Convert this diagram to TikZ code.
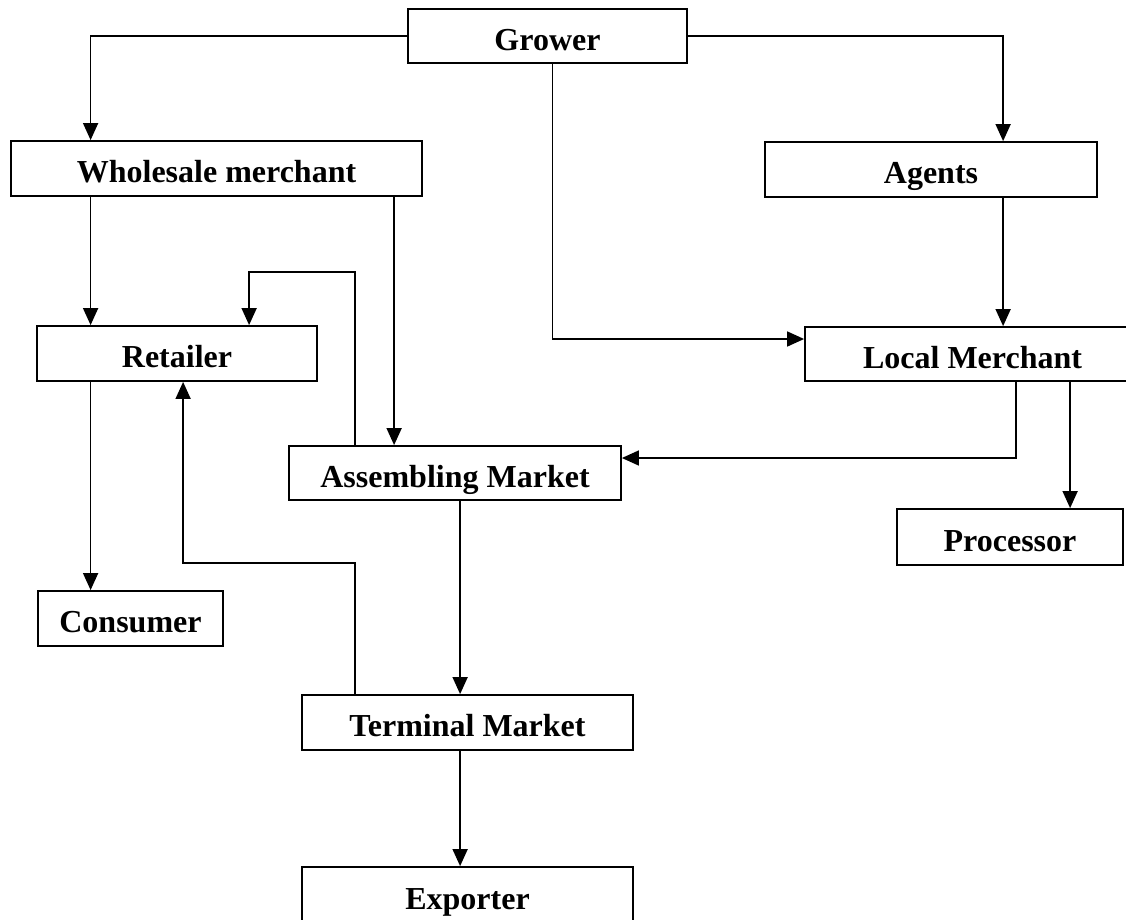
\documentclass[tikz,border=0pt]{standalone}
\usepackage{fontspec}
\setmainfont{Liberation Serif}
\usetikzlibrary{arrows.meta,calc}
\begin{document}
\begin{tikzpicture}[x=1pt,y=-1pt,
  box/.style={draw, line width=1.8pt, inner sep=0pt, text height=28pt, text depth=0pt, font=\fontsize{32}{36}\selectfont\bfseries, anchor=center},
  arr/.style={line width=1.6pt, -{Triangle[length=17pt,width=15pt]}}]
\useasboundingbox (0,0) rectangle (1126,919);
\node[box, minimum width=279pt, minimum height=54pt] (grower) at (547.5,36) {Grower};
\node[box, minimum width=411pt, minimum height=55pt] (wholesale) at (216.5,168.5) {Wholesale merchant};
\node[box, minimum width=332pt, minimum height=55pt] (agents) at (931,169.5) {Agents};
\node[box, minimum width=280pt, minimum height=55pt] (retailer) at (177,353.5) {Retailer};
\node[box, minimum width=335pt, minimum height=54pt] (local) at (972.5,354) {Local Merchant};
\node[box, minimum width=332pt, minimum height=54pt] (assembling) at (455,473) {Assembling Market};
\node[box, minimum width=226pt, minimum height=56pt] (processor) at (1010,537) {Processor};
\node[box, minimum width=185pt, minimum height=55pt] (consumer) at (130.5,618.5) {Consumer};
\node[box, minimum width=331pt, minimum height=55pt] (terminal) at (467.5,722.5) {Terminal Market};
\node[box, minimum width=331pt, minimum height=56pt] (exporter) at (467.5,895) {Exporter};

\draw[arr] (grower.west) -| ([xshift=80.5pt]wholesale.north west);
\draw[arr] (grower.east) -| ([xshift=239pt]agents.north west);
\draw[arr] ([xshift=145.5pt]grower.south west) |- ([yshift=15pt]local.west);
\draw[arr] ([xshift=80.5pt]wholesale.south west) -- ([xshift=54.5pt]retailer.north west);
\draw[arr] ([xshift=384pt]wholesale.south west) -- ([xshift=106pt]assembling.north west);
\draw[arr] ([xshift=239pt]agents.south west) -- ([xshift=199pt]local.north west);
\draw[arr] ([xshift=212pt]local.south west) |- ([yshift=15pt]assembling.east);
\draw[arr] ([xshift=266pt]local.south west) -- ([xshift=174pt]processor.north west);
\draw[arr] ([xshift=67pt]assembling.north west) -- ++(0,-173) -| ([xshift=213pt]retailer.north west);
\draw[arr] ([xshift=54.5pt]retailer.south west) -- ([xshift=53.5pt]consumer.north west);
\draw[arr] ([xshift=172pt]assembling.south west) -- ([xshift=159pt]terminal.north west);
\draw[arr] ([xshift=54pt]terminal.north west) -- ++(0,-131) -| ([xshift=147pt]retailer.south west);
\draw[arr] ([xshift=159pt]terminal.south west) -- ([xshift=159pt]exporter.north west);
\end{tikzpicture}
\end{document}
